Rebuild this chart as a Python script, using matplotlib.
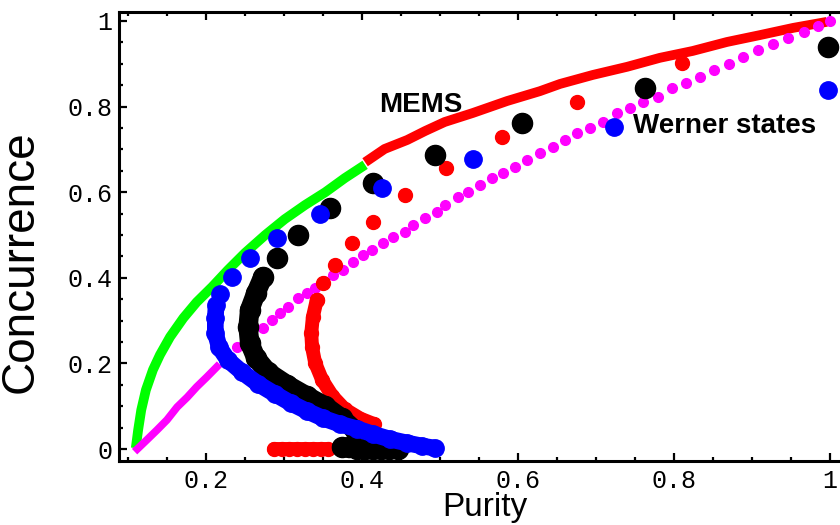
import matplotlib
matplotlib.use("Agg")
import matplotlib.pyplot as plt
from matplotlib.ticker import MultipleLocator

# MEMS boundary, low-purity branch (green) and high-purity branch (red)
mems_low_p = [0.110, 0.113, 0.117, 0.123, 0.132, 0.141, 0.154, 0.171, 0.188, 0.208,
              0.228, 0.250, 0.276, 0.301, 0.327, 0.353, 0.378, 0.404]
mems_low_c = [0.002, 0.044, 0.091, 0.138, 0.185, 0.220, 0.262, 0.306, 0.343, 0.379,
              0.418, 0.458, 0.500, 0.537, 0.570, 0.600, 0.633, 0.664]
mems_high_p = [0.404, 0.429, 0.458, 0.481, 0.506, 0.542, 0.586, 0.628, 0.654, 0.696,
               0.740, 0.782, 0.824, 0.868, 0.910, 0.953, 0.996]
mems_high_c = [0.670, 0.701, 0.722, 0.743, 0.764, 0.785, 0.813, 0.836, 0.853, 0.874,
               0.893, 0.914, 0.930, 0.951, 0.967, 0.984, 0.998]

# Werner states (magenta)
werner_dense_p = [0.112, 0.124, 0.137, 0.150, 0.163, 0.176, 0.188, 0.201, 0.214]
werner_dense_c = [0.000, 0.021, 0.044, 0.068, 0.098, 0.121, 0.145, 0.168, 0.192]
werner_p = [0.240, 0.256, 0.273, 0.285, 0.295, 0.305, 0.318, 0.329, 0.340, 0.351,
            0.363, 0.376, 0.388, 0.401, 0.413, 0.427, 0.440, 0.455, 0.465, 0.481,
            0.496, 0.506, 0.523, 0.536, 0.551, 0.567, 0.581, 0.596, 0.612, 0.628,
            0.645, 0.660, 0.676, 0.692, 0.709, 0.727, 0.744, 0.760, 0.779, 0.797,
            0.815, 0.833, 0.851, 0.871, 0.888, 0.908, 0.927, 0.946, 0.967, 0.985, 1.000]
werner_c = [0.238, 0.259, 0.283, 0.301, 0.318, 0.332, 0.353, 0.364, 0.376, 0.393,
            0.407, 0.418, 0.437, 0.453, 0.465, 0.481, 0.495, 0.507, 0.523, 0.540,
            0.554, 0.570, 0.589, 0.600, 0.617, 0.633, 0.645, 0.659, 0.675, 0.692,
            0.706, 0.722, 0.738, 0.750, 0.764, 0.785, 0.797, 0.811, 0.822, 0.843,
            0.855, 0.869, 0.886, 0.900, 0.916, 0.932, 0.946, 0.960, 0.974, 0.988, 1.000]

# red states
red_sparse_p = [0.810, 0.676, 0.579, 0.508, 0.455, 0.414, 0.387, 0.365, 0.350, 0.342]
red_sparse_c = [0.902, 0.811, 0.729, 0.657, 0.593, 0.530, 0.481, 0.430, 0.388, 0.348]
red_dense_p = [0.342, 0.337, 0.335, 0.336, 0.340, 0.349, 0.362, 0.378, 0.398, 0.416]
red_dense_c = [0.348, 0.308, 0.271, 0.238, 0.201, 0.161, 0.124, 0.093, 0.071, 0.058]
red_zero_p = [0.287, 0.297, 0.307, 0.317, 0.327, 0.337, 0.347, 0.357]
red_zero_c = [0, 0, 0, 0, 0, 0, 0, 0]

# black states
black_sparse_p = [0.997, 0.763, 0.605, 0.494, 0.414, 0.359, 0.318, 0.291]
black_sparse_c = [0.939, 0.843, 0.762, 0.687, 0.621, 0.563, 0.500, 0.446]
black_dense_p = [0.273, 0.264, 0.256, 0.254, 0.256, 0.264, 0.279, 0.304, 0.329, 0.353,
                 0.374, 0.391]
black_dense_c = [0.402, 0.364, 0.325, 0.285, 0.248, 0.213, 0.180, 0.150, 0.124, 0.100,
                 0.072, 0.044]
black_zero_p = [0.374, 0.384, 0.394, 0.404, 0.414, 0.424, 0.434, 0.446]
black_zero_c = [0.004, 0.004, 0, 0, 0, 0, 0, 0]

# blue states
blue_sparse_p = [0.997, 0.723, 0.542, 0.426, 0.346, 0.291, 0.256, 0.233, 0.218]
blue_sparse_c = [0.839, 0.752, 0.678, 0.610, 0.549, 0.493, 0.446, 0.402, 0.362]
blue_dense_p = [0.213, 0.212, 0.212, 0.217, 0.228, 0.246, 0.267, 0.288, 0.309, 0.329,
                0.350, 0.372, 0.394, 0.414, 0.436, 0.458, 0.477, 0.494]
blue_dense_c = [0.336, 0.306, 0.271, 0.238, 0.208, 0.180, 0.152, 0.129, 0.107, 0.089,
                0.072, 0.058, 0.047, 0.035, 0.023, 0.014, 0.007, 0.002]

x_ticks = [0.2, 0.4, 0.6, 0.8, 1.0]
x_labels = ["0.2", "0.4", "0.6", "0.8", "1"]
y_ticks = [0, 0.2, 0.4, 0.6, 0.8, 1.0]
y_labels = ["0", "0.2", "0.4", "0.6", "0.8", "1"]

GREEN = "#00ff00"
RED = "#ff0000"
BLUE = "#0000ff"
MAGENTA = "#ff00ff"

fig = plt.figure(figsize=(8.4, 5.25), dpi=100)
ax = fig.add_axes([119 / 840, 64 / 525, 750 / 840, 449 / 525])

# boundary curves
ax.plot(mems_low_p, mems_low_c, color=GREEN, lw=7, solid_capstyle="butt", zorder=1)
ax.plot(mems_high_p, mems_high_c, color=RED, lw=7, solid_capstyle="butt", zorder=1)

# Werner states
ax.plot(werner_dense_p, werner_dense_c, color=MAGENTA, lw=5.5, zorder=2)
ax.plot(werner_p, werner_c, ls="none", marker="o", ms=7, color=MAGENTA, zorder=2)

# red
ax.plot(red_dense_p, red_dense_c, color=RED, lw=10, solid_capstyle="round", zorder=3)
ax.plot(red_zero_p, red_zero_c, color=RED, lw=10, solid_capstyle="round", zorder=3)
ax.plot(red_sparse_p + red_dense_p + red_zero_p, red_sparse_c + red_dense_c + red_zero_c,
        ls="none", marker="o", ms=10, color=RED, zorder=3)

# black
ax.plot(black_dense_p, black_dense_c, color="black", lw=14, solid_capstyle="round", zorder=4)
ax.plot(black_zero_p, black_zero_c, color="black", lw=14, solid_capstyle="round", zorder=4)
ax.plot(black_sparse_p + black_dense_p + black_zero_p, black_sparse_c + black_dense_c + black_zero_c,
        ls="none", marker="o", ms=14.5, color="black", zorder=4)

# blue
ax.plot(blue_dense_p, blue_dense_c, color=BLUE, lw=12, solid_capstyle="round", zorder=5)
ax.plot(blue_sparse_p + blue_dense_p, blue_sparse_c + blue_dense_c,
        ls="none", marker="o", ms=12.5, color=BLUE, zorder=5)

ax.text(0.422, 0.804, "MEMS", fontsize=20, fontweight="bold", family="Liberation Sans",
        ha="left", va="center", zorder=6)
ax.text(0.747, 0.755, "Werner states", fontsize=20, fontweight="bold", family="Liberation Sans",
        ha="left", va="center", zorder=6)

ax.set_xlim(0.0885, 1.05)
ax.set_ylim(-0.028, 1.021)

ax.set_xticks(x_ticks)
ax.set_xticklabels(x_labels)
ax.set_yticks(y_ticks)
ax.set_yticklabels(y_labels)
ax.xaxis.set_minor_locator(MultipleLocator(0.05))
ax.yaxis.set_minor_locator(MultipleLocator(0.05))

for s in ax.spines.values():
    s.set_linewidth(2.2)
ax.tick_params(which="both", direction="in", top=True, right=False, width=1.6)
ax.tick_params(which="major", length=6)
ax.tick_params(which="minor", length=3)
ax.tick_params(axis="x", pad=6)
ax.tick_params(axis="y", pad=5)
for lab in ax.get_xticklabels() + ax.get_yticklabels():
    lab.set_family("Liberation Mono")
    lab.set_fontsize(18)

fig.text(43 / 840, 1 - 262 / 525, "Concurrence", rotation=90, fontsize=33,
         family="Liberation Sans", ha="right", va="center")
fig.text(485 / 840, 9 / 525, "Purity", fontsize=24, family="Liberation Sans",
         ha="center", va="baseline")

fig.savefig("out.png", dpi=100)
